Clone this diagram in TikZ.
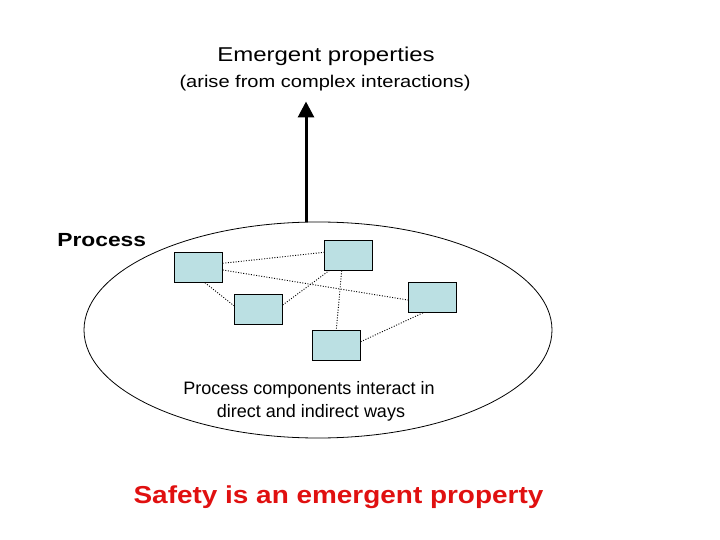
\documentclass[tikz,border=0pt]{standalone}
\usepackage{fontspec}
\usepackage{graphicx}
\setmainfont{Liberation Sans}
\usetikzlibrary{shapes.geometric,arrows.meta}
\definecolor{boxfill}{RGB}{187,224,227}
\definecolor{safered}{RGB}{224,16,16}
\newcommand{\hsc}[2]{\scalebox{#1}[1]{#2}}
\tikzset{
  comp/.style={draw=black, line width=0.8pt, fill=boxfill, rectangle, minimum width=48pt, minimum height=30pt, inner sep=0pt},
  link/.style={dash pattern=on 1pt off 1.6pt, line width=0.9pt, black},
  lbl/.style={anchor=base, inner sep=0pt}
}
\begin{document}
\begin{tikzpicture}[x=1pt,y=-1pt]
\useasboundingbox (0,0) rectangle (720,540);
% ellipse
\node[draw, ellipse, line width=0.8pt, minimum width=468pt, minimum height=216pt, inner sep=0pt] (proc) at (318,330) {};
% boxes
\node[comp] (A) at (198.3,267.3) {};
\node[comp] (B) at (348.3,255.3) {};
\node[comp] (C) at (432.3,297.3) {};
\node[comp] (D) at (258.3,309.3) {};
\node[comp] (E) at (336.3,345.3) {};
% links
\draw[link] ([yshift=4pt]A.east) -- ([yshift=3pt]B.west);
\draw[link] ([yshift=-2.7pt]A.east) -- ([yshift=-2.7pt]C.west);
\draw[link] ([xshift=6.7pt]A.south) -- ([yshift=3.6pt]D.west);
\draw[link] ([yshift=4.3pt]D.east) -- ([xshift=-19.3pt]B.south);
\draw[link] ([xshift=-6.6pt]B.south) -- (E.north);
\draw[link] ([yshift=3.6pt]E.east) -- ([xshift=-9pt]C.south);
% arrow
\coordinate (tip) at (306,101.5);
\draw[line width=3pt, -{Triangle[length=16pt,width=16pt]}] ([xshift=-12pt]proc.north) -- (tip);
% texts
\node[lbl] (t1) at (326,62) {\fontsize{20}{24}\selectfont\hsc{1.2}{Emergent properties}};
\node[lbl] (t2) at (325,88) {\fontsize{17}{20}\selectfont\hsc{1.18}{(arise from complex interactions)}};
\node[lbl] (t3) at (101.7,247) {\fontsize{19}{22}\selectfont\bfseries\hsc{1.2}{Process}};
\node[lbl] (t4) at (309,394.3) {\fontsize{18}{21}\selectfont Process components interact in};
\node[lbl] (t5) at (311,417) {\fontsize{18}{21}\selectfont direct and indirect ways};
\node[lbl, text=safered] (t6) at (338.5,503) {\fontsize{24.5}{28}\selectfont\bfseries\hsc{1.14}{Safety is an emergent property}};
\end{tikzpicture}
\end{document}
